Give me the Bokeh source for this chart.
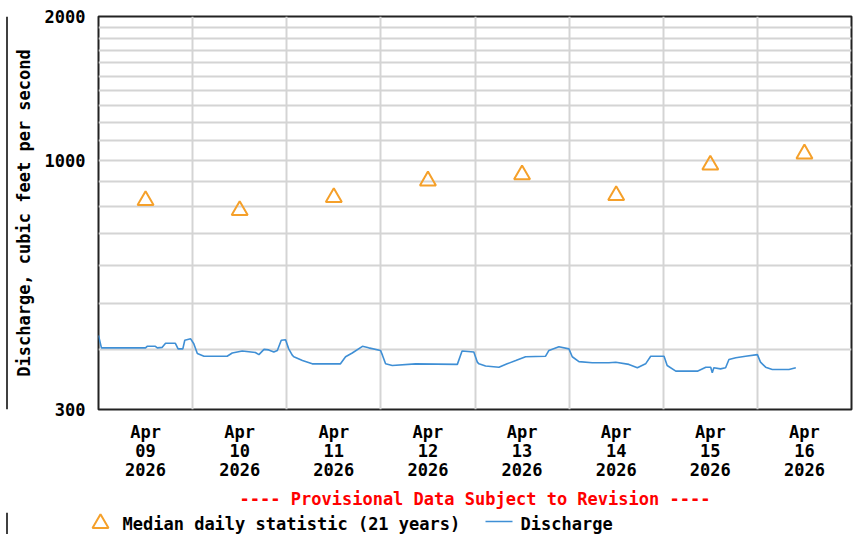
import pandas as pd
from bokeh.plotting import figure
from bokeh.layouts import column, row
from bokeh.core.properties import value
from bokeh.models import (FixedTicker, Range1d, DatetimeTickFormatter, Title,
                          ColumnDataSource)
from bokeh.embed import file_html
from bokeh.resources import INLINE

# ---------------- data ----------------
start = "2026-04-09 00:00"
end = "2026-04-17 00:00"

# median daily statistic (21 years), at noon of each day
median_dates = ["2026-04-09 12:00", "2026-04-10 12:00", "2026-04-11 12:00", "2026-04-12 12:00",
                "2026-04-13 12:00", "2026-04-14 12:00", "2026-04-15 12:00", "2026-04-16 12:00"]
median_values = [823, 784, 835, 905, 932, 843, 977, 1031]

# discharge (hours after Apr 09 00:00, cfs)
discharge_hours = [0, 0.75, 12.0, 12.4, 14.5, 15.0, 16.25, 17.1, 19.6, 20.3, 21.5, 22.0, 23.5, 24.3,
                   25.2, 26.9, 32.8, 34.1, 36.65, 40.0, 40.9, 42.2, 43.4, 44.7, 45.6, 46.6, 47.7,
                   48.5, 49.4, 49.8, 52.0, 54.5, 61.7, 63.0, 64.7, 67.3, 68.9, 71.9, 72.4, 73.2,
                   74.9, 80.85, 91.5, 92.7, 95.7, 96.6, 97.0, 98.7, 102.1, 104.2, 106.4, 108.9,
                   114.0, 114.85, 117.4, 119.95, 120.8, 122.5, 125.9, 130.15, 131.9, 135.25, 137.4,
                   139.5, 140.8, 144.2, 145.0, 147.2, 152.7, 154.85, 156.1, 156.5, 156.9, 158.6,
                   159.9, 160.75, 162.5, 165.0, 168.0, 168.8, 170.1, 171.8, 176.05, 177.8]
discharge_values = [429, 404, 404, 407, 407, 404, 405, 413, 413, 402, 402, 419, 422, 412,
                    393, 388, 388, 394, 398, 395, 391, 401, 400, 396, 399, 419, 420,
                    402, 390, 387, 380, 374, 374, 387, 394, 407, 404, 399, 390, 374,
                    371, 374, 373, 398, 396, 377, 374, 370, 368, 374, 380, 387,
                    388, 399, 406, 402, 387, 378, 376, 376, 377, 373, 367,
                    374, 388, 388, 371, 361, 361, 368, 368, 358, 367, 365,
                    367, 382, 385, 388, 391, 377, 368, 364, 364, 367]

y_label_ticks = [300, 1000, 2000]
y_grid_ticks = [300, 400, 500, 600, 700, 800, 900, 1000, 1100, 1200, 1300, 1400, 1500,
                1600, 1700, 1800, 1900, 2000]

note_text = "---- Provisional Data Subject to Revision ----"
legend_labels = ["Median daily statistic (21 years)", "Discharge"]

# ---------------- build ----------------
t0 = pd.Timestamp(start)
t1 = pd.Timestamp(end)
dis_times = [t0 + pd.Timedelta(hours=h) for h in discharge_hours]
med_times = [pd.Timestamp(d) for d in median_dates]


def ms(t):
    return t.value / 1e6


day_starts = [ms(t0 + pd.Timedelta(days=i)) for i in range(9)]
day_noons = [ms(t0 + pd.Timedelta(days=i, hours=12)) for i in range(8)]

FONT = "DejaVu Sans Mono"
FS = "17px"
ORANGE = "#f5a02a"
BLUE = "#3f8fd5"

p = figure(width=846, height=512, x_axis_type="datetime", y_axis_type="log",
           x_range=Range1d(t0, t1), y_range=Range1d(300, 2000),
           output_backend="svg", toolbar_location=None,
           min_border_left=90, min_border_right=3, min_border_top=16, min_border_bottom=101)

p.outline_line_color = "#222222"
p.outline_line_width = 2
p.background_fill_color = "white"
p.border_fill_color = "white"

# grids
p.xgrid.ticker = FixedTicker(ticks=day_starts)
p.ygrid.ticker = FixedTicker(ticks=y_grid_ticks)
for g in (p.xgrid, p.ygrid):
    g.grid_line_color = "#d4d4d4"
    g.grid_line_width = 2

# axes
p.yaxis.ticker = FixedTicker(ticks=y_label_ticks)
p.yaxis.major_label_overrides = {v: str(v) for v in y_label_ticks}
p.xaxis.ticker = FixedTicker(ticks=day_noons)
p.xaxis.formatter = DatetimeTickFormatter(days="%b\n%d\n%Y", hours="%b\n%d\n%Y")
for ax in (p.xaxis, p.yaxis):
    ax.axis_line_color = None
    ax.major_tick_line_color = None
    ax.minor_tick_line_color = None
    ax.major_tick_out = 0
    ax.major_tick_in = 0
    ax.minor_tick_out = 0
    ax.minor_tick_in = 0
    ax.major_label_text_font = FONT
    ax.major_label_text_font_size = FS
    ax.major_label_text_font_style = "bold"
    ax.major_label_text_color = "black"
p.xaxis.major_label_text_line_height = 0.95
p.xaxis.major_label_standoff = 12
p.yaxis.major_label_standoff = 13
p.yaxis.axis_label = "Discharge, cubic feet per second"
p.yaxis.axis_label_text_font = FONT
p.yaxis.axis_label_text_font_size = FS
p.yaxis.axis_label_text_font_style = "bold"
p.yaxis.axis_label_text_color = "black"
p.yaxis.axis_label_standoff = 8

# glyphs
dsrc = ColumnDataSource(dict(t=dis_times, q=discharge_values))
msrc = ColumnDataSource(dict(t=med_times, q=median_values))
p.line("t", "q", source=dsrc, line_color=BLUE, line_width=1.6)
p.scatter("t", "q", source=msrc, marker="triangle", size=16, fill_color=None,
          line_color=ORANGE, line_width=2)

# provisional note
note = Title(text=note_text, align="center",
             text_color="#ff0000", text_font=FONT, text_font_size=FS, text_font_style="bold",
             standoff=8)
p.add_layout(note, "below")

# ---------------- left page border (top part) ----------------
strip = figure(width=8, height=512, x_range=Range1d(0, 8), y_range=Range1d(0, 512),
               output_backend="svg", toolbar_location=None,
               x_axis_location=None, y_axis_location=None, min_border=0)
strip.grid.visible = False
strip.outline_line_color = None
strip.line([6.5, 6.5], [0, 512], line_color="black", line_width=1.5)

# ---------------- legend row (full page width, x in page pixels) ----------------
lg = figure(width=854, height=22, x_range=Range1d(0, 854), y_range=Range1d(0, 22),
            output_backend="svg", toolbar_location=None,
            x_axis_location=None, y_axis_location=None, min_border=0)
lg.grid.visible = False
lg.outline_line_color = None
lg.line([6.5, 6.5], [0, 22], line_color="black", line_width=1.5)
lg.scatter([100], [11], marker="triangle", size=16, fill_color=None,
           line_color=ORANGE, line_width=2)
lg.line([485, 512], [13, 13], line_color=BLUE, line_width=1.6)
lg.text([122, 520], [11, 11], text=legend_labels, text_font=value(FONT),
        text_font_size=FS, text_font_style="bold", text_color="black",
        text_baseline="middle", text_align="left")

layout = column(row(strip, p, spacing=0), lg, spacing=0)

open("out.html", "w").write(file_html(layout, INLINE))
